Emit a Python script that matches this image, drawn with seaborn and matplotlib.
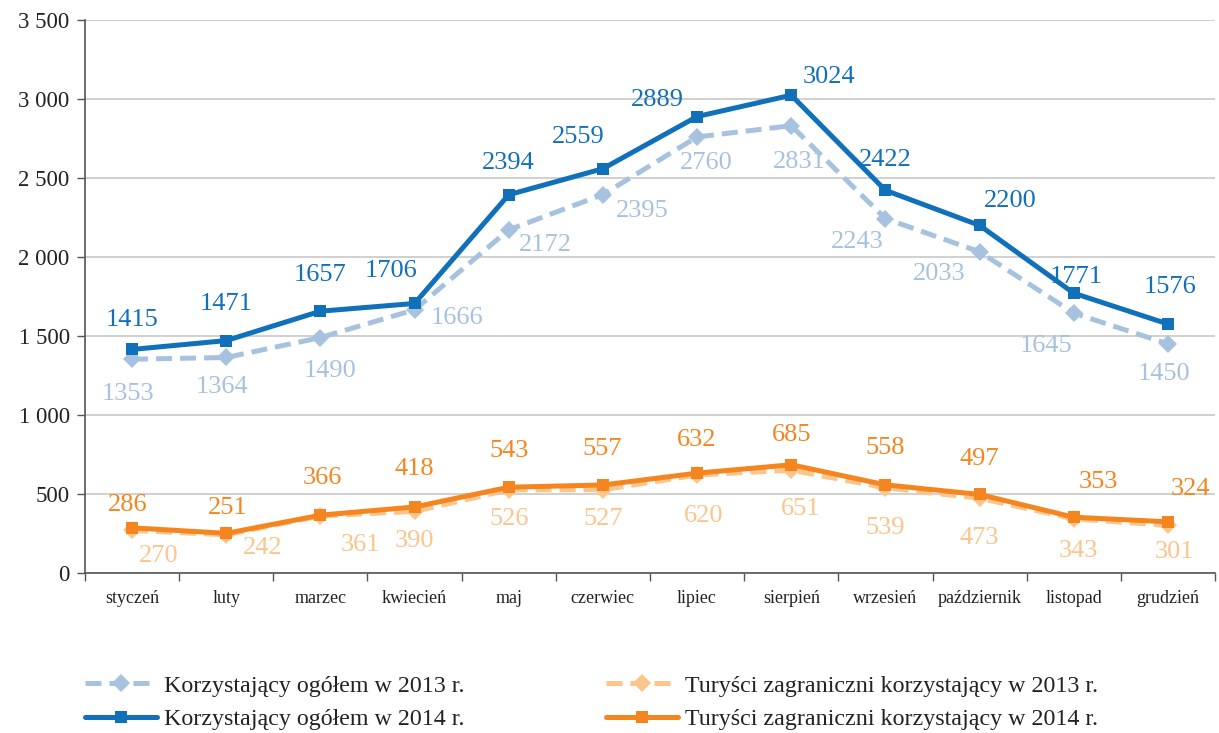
import matplotlib
matplotlib.use("Agg")
import matplotlib.pyplot as plt
import seaborn as sns
import pandas as pd
from matplotlib.ticker import FuncFormatter, FixedLocator

months = ["styczeń", "luty", "marzec", "kwiecień", "maj", "czerwiec", "lipiec",
          "sierpień", "wrzesień", "październik", "listopad", "grudzień"]
total_2013 = [1353, 1364, 1490, 1666, 2172, 2395, 2760, 2831, 2243, 2033, 1645, 1450]
total_2014 = [1415, 1471, 1657, 1706, 2394, 2559, 2889, 3024, 2422, 2200, 1771, 1576]
foreign_2013 = [270, 242, 361, 390, 526, 527, 620, 651, 539, 473, 343, 301]
foreign_2014 = [286, 251, 366, 418, 543, 557, 632, 685, 558, 497, 353, 324]

labels = ["Korzystający ogółem w 2013 r.", "Korzystający ogółem w 2014 r.",
          "Turyści zagraniczni korzystający w 2013 r.", "Turyści zagraniczni korzystający w 2014 r."]

# label offsets in pixels (dx, dy; dy positive = up)
off_t13 = [(-4, -35), (-4, -30), (10, -33), (42, -8), (37, -15), (39, -16), (9, -26), (8, -36), (-28, -23), (-40, -22), (-28, -33), (-4, -30)]
off_t14 = [(0, 29), (0, 37), (0, 36), (-24, 32), (0, 32), (-25, 32), (-40, 17), (38, 18), (0, 30), (31, 24), (2, 16), (2, 37)]
off_f13 = [(27, -26), (36, -13), (40, -29), (0, -30), (0, -29), (0, -29), (7, -41), (9, -39), (0, -40), (0, -40), (5, -32), (7, -27)]
off_f14 = [(-4, 23), (1, 25), (2, 37), (0, 38), (0, 36), (-1, 36), (0, 33), (0, 30), (0, 37), (0, 35), (25, 35), (23, 33)]

c_t13 = "#A7C2DF"
c_t14 = "#1170BA"
c_f13 = "#FBC58C"
c_f14 = "#F5861F"

sns.set_theme(style="white")
plt.rcParams["font.family"] = ["Liberation Serif", "DejaVu Serif"]

fig = plt.figure(figsize=(12.19, 7.33), dpi=100)
ax = fig.add_axes([85/1219, 1-573/733, (1215-85)/1219, (573-20)/733])

df = pd.DataFrame({"m": months, "t13": total_2013, "t14": total_2014,
                   "f13": foreign_2013, "f14": foreign_2014})

specs = [
    ("t13", c_t13, (0, (3.2, 1.6)), "D", 12, labels[0]),
    ("t14", c_t14, "-", "s", 12, labels[1]),
    ("f13", c_f13, (0, (3.2, 1.6)), "D", 12, labels[2]),
    ("f14", c_f14, "-", "s", 9.5, labels[3]),
]
for col, c, ls, mk, ms, lab in specs:
    sns.lineplot(data=df, x="m", y=col, sort=False, ax=ax, color=c, lw=3.6,
                 linestyle=ls, marker=mk, markersize=ms, markeredgewidth=0,
                 label=lab, zorder=3 if col.endswith("14") else 2)

for vals, offs, c in [(total_2013, off_t13, c_t13), (total_2014, off_t14, c_t14),
                      (foreign_2013, off_f13, c_f13), (foreign_2014, off_f14, c_f14)]:
    for i, (v, (dx, dy)) in enumerate(zip(vals, offs)):
        ax.annotate(str(v), (i, v), xytext=(dx*0.72, dy*0.72), textcoords="offset points",
                    ha="center", va="center", fontsize=19, color=c, zorder=5)

ax.set_xlim(-0.5, 11.5)
ax.set_ylim(0, 3500)
ax.set_yticks(range(0, 3501, 500))
ax.yaxis.set_major_formatter(FuncFormatter(lambda v, p: f"{int(v):,}".replace(",", " ")))
ax.grid(axis="y", color="#C8C8C8", lw=1.2)
ax.set_axisbelow(True)
ax.set_xlabel("")
ax.set_ylabel("")

ax.set_xticks(range(12))
ax.set_xticklabels(months, fontsize=13, color="#222222")
ax.xaxis.set_minor_locator(FixedLocator([k - 0.5 for k in range(13)]))
ax.tick_params(axis="x", which="major", length=0, pad=12)
ax.tick_params(axis="x", which="minor", length=6, width=1, color="#555555", direction="out", bottom=True)
ax.tick_params(axis="y", labelsize=16.5, length=6, width=1, color="#555555", direction="out", left=True, labelcolor="#222222", pad=5)

for s in ["top", "right"]:
    ax.spines[s].set_visible(False)
for s in ["left", "bottom"]:
    ax.spines[s].set_color("#555555")
    ax.spines[s].set_linewidth(1.2)

h, l = ax.get_legend_handles_labels()
ax.get_legend().remove()
for hh in h:
    hh.set_markersize(9)
leg = fig.legend(h, l, ncol=2, loc="lower left", bbox_to_anchor=(63/1219, -0.026),
                 frameon=False, fontsize=17.3, handlelength=3.0, columnspacing=5.9,
                 labelspacing=0.5, handletextpad=0.3)
for t in leg.get_texts():
    t.set_color("#222222")

fig.savefig("out.png", dpi=100)
